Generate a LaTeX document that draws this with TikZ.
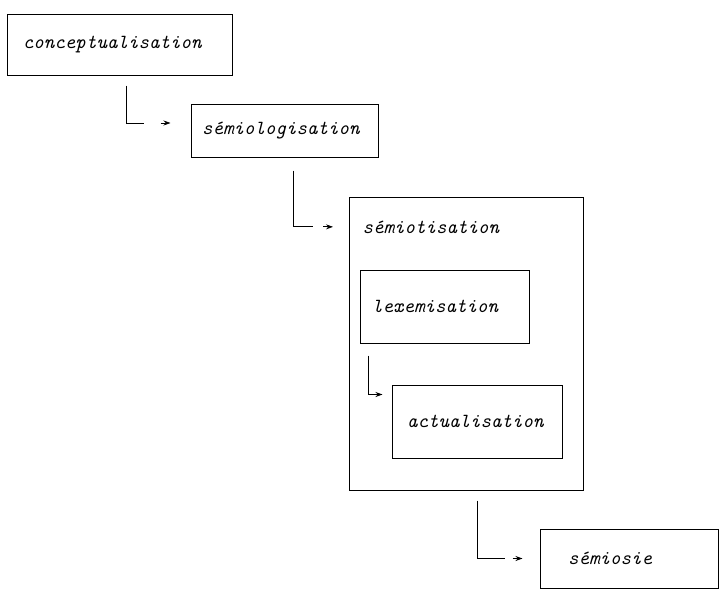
\documentclass[tikz,border=0pt]{standalone}
\usepackage{fontspec}
\usepackage{tikz}
\usetikzlibrary{arrows.meta}

\tikzset{
  box/.style={draw, rectangle, line width=1pt, align=left, inner ysep=0pt,
    font=\fontsize{20}{24}\selectfont\ttfamily\itshape},
  label text/.style={font=\fontsize{20}{24}\selectfont\ttfamily\itshape},
  link/.style={line width=0.8pt},
  tip/.style={line width=0.8pt, -{Stealth[length=7pt,width=5pt]}}
}

\begin{document}
\begin{tikzpicture}[x=1pt, y=-1pt]
        \useasboundingbox (0,0) rectangle (720,589);

        % Kutular
        \node[box, text width=193pt, inner xsep=16pt, minimum height=61pt] (concept) at (119.5,44.5) {conceptualisation};
        \node[box, text width=165pt, inner xsep=11pt, minimum height=53pt] (semiol) at (284.5,130.5) {sémiologisation};
        \node[box, minimum width=234pt, minimum height=293pt, inner sep=0pt] (semiot) at (466,343.5) {};
        \node[label text, anchor=base west] (semiottitle) at (359,233) {sémiotisation};
        \node[box, text width=145pt, inner xsep=12pt, minimum height=73pt] (lexem) at (444.5,306.5) {lexemisation};
        \node[box, text width=140pt, inner xsep=15pt, minimum height=73pt] (actual) at (477,421.5) {actualisation};
        \node[box, text width=122pt, inner xsep=28pt, minimum height=59pt] (semiosie) at (629,558.5) {sémiosie};

        % Oklar
        \coordinate (c1) at ([xshift=-20pt,yshift=7.5pt]semiol.west);
        \draw[link] ([xshift=6.5pt,yshift=-10pt]concept.south) |- ([xshift=-27pt]c1);
        \draw[tip] ([xshift=-10pt]c1) -- (c1);

        \coordinate (c2) at ([xshift=-26pt]semiottitle.west);
        \draw[link] ([xshift=8.5pt,yshift=-13pt]semiol.south) |- ([xshift=-20pt]c2);
        \draw[tip] ([xshift=-10pt]c2) -- (c2);

        \coordinate (c3) at ([xshift=-9pt,yshift=-10pt]actual.north west);
        \draw[link] ([xshift=9pt,yshift=-12pt]lexem.south west) |- ([xshift=-7pt]c3);
        \draw[tip] ([xshift=-8pt]c3) -- (c3);

        \coordinate (c4) at ([xshift=-17pt]semiosie.west);
        \draw[link] ([xshift=11pt,yshift=-10pt]semiot.south) |- ([xshift=-18pt]c4);
        \draw[tip] ([xshift=-10pt]c4) -- (c4);
    \end{tikzpicture}
\end{document}
